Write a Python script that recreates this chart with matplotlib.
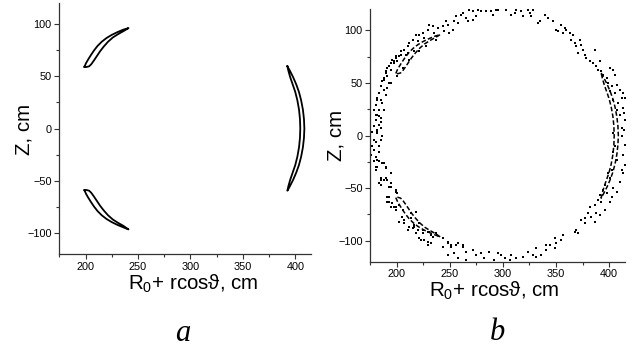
import matplotlib
matplotlib.use('Agg')
import matplotlib.pyplot as plt
from matplotlib.ticker import MultipleLocator

plt.rcParams['font.family'] = ['Liberation Sans', 'DejaVu Sans']
plt.rcParams['mathtext.fontset'] = 'custom'
plt.rcParams['mathtext.rm'] = 'Liberation Sans'
plt.rcParams['mathtext.it'] = 'Liberation Sans:italic'
plt.rcParams['mathtext.fallback'] = 'stixsans'

# ---------------- data ----------------
x_ticks = [200, 250, 300, 350, 400]
y_ticks = [-100, -50, 0, 50, 100]

# panel a: closed banana orbits (R, Z in cm)
upper_R = [199, 200.5, 202.5, 205, 208, 211.5, 215.5, 220, 225, 230.5, 236, 241,
           236, 231, 226, 221.5, 217.5, 214, 211, 208, 205.5, 203.5, 201, 199]
upper_Z = [59, 62.5, 66, 70, 74.5, 79, 83, 86.5, 89.5, 92.2, 94.5, 96,
           93, 90.2, 87, 83, 78.5, 74, 69.5, 65, 61.5, 59.5, 58.8, 59]

lower_R = [199, 200.5, 202.5, 205, 208, 211.5, 215.5, 220, 225, 230.5, 236, 241,
           236, 231, 226, 221.5, 217.5, 214, 211, 208, 205.5, 203.5, 201, 199]
lower_Z = [-59, -62.5, -66, -70, -74.5, -79, -83, -86.5, -89.5, -92.2, -94.5, -96.5,
           -93, -90.2, -87, -83, -78.5, -74, -69.5, -65, -61.5, -59.5, -58.8, -59]

right_R = [392.5, 395, 398, 401, 403.5, 405.6, 407.3, 408.3, 408.7, 408.3, 407.3, 405.6,
           403.5, 401, 398, 395, 392.5,
           393.5, 395.2, 397.6, 400, 402, 403.6, 404.5, 404.8, 404.5, 403.6, 402, 400,
           397.6, 395.2, 393.5, 392.5]
right_Z = [59.5, 55, 49, 42, 35, 27, 18, 9, 0, -9, -18, -27,
           -35, -42, -49, -55, -59.5,
           -55, -49, -42, -35, -27, -18, -9, 0, 9, 18, 27, 35,
           42, 49, 55, 59.5]

# panel b: scattered orbit points (R, Z in cm), read region by region
q1_R = [268.4, 271.5, 276.2, 279.4, 284.1, 288.8, 293.6, 290.4, 274.7, 271.5, 265.2, 260.5,
        255.8, 257.3, 254.2, 262.1, 266.8, 247.9, 246.3, 243.2, 244.7, 238.4, 233.7, 235.3,
        229.0, 230.6, 224.3, 225.8, 221.1, 218.0, 219.5, 214.8, 211.7, 210.1, 206.9, 208.5,
        203.8, 202.2, 200.6, 199.1, 195.9, 197.5, 192.8, 194.3, 189.6, 191.2, 188.0, 186.5,
        184.9, 188.0, 183.3, 189.6, 181.7, 184.9, 180.2, 178.6, 183.3, 188.0, 181.7, 184.9,
        180.2, 183.3, 178.6, 181.7, 184.9, 177.0, 211.7, 205.4, 200.6, 194.3, 191.2, 227.4,
        236.9, 249.5, 252.6]
q1_Z = [119.7, 118.1, 119.7, 118.1, 118.7, 118.1, 119.0, 114.9, 113.3, 110.2, 111.7, 114.9,
        113.3, 107.0, 108.6, 116.5, 108.6, 105.4, 108.6, 103.8, 99.0, 102.2, 103.8, 97.5,
        100.6, 105.4, 97.5, 92.7, 95.9, 95.9, 89.5, 91.1, 87.9, 84.8, 81.6, 76.8,
        80.0, 75.2, 70.5, 73.6, 72.1, 68.9, 65.7, 62.5, 61.0, 56.2, 54.6, 51.4,
        46.7, 43.5, 40.3, 38.7, 35.5, 34.0, 29.2, 24.4, 24.4, 24.4, 19.7, 16.5,
        14.9, 10.2, 8.6, 5.4, 7.0, 3.8, 72.1, 64.1, 56.2, 49.8, 45.1, 84.8,
        91.1, 97.5, 100.6]

q2_R = [295.2, 303.1, 307.8, 310.9, 312.5, 317.2, 318.8, 323.5, 325.1, 326.7, 328.3, 333.0,
        334.6, 339.3, 342.4, 347.2, 350.3, 351.9, 355.0, 356.6, 358.2, 359.8, 362.9, 366.1,
        364.5, 367.6, 369.2, 372.4, 373.9, 375.5, 377.1, 370.8, 378.7, 381.8, 386.5, 385.0,
        388.1, 391.3, 389.7, 392.8, 394.4, 400.7, 403.9, 405.4, 397.6, 399.1, 402.3, 407.0,
        400.7, 405.4, 410.2, 413.3, 411.7, 403.9, 408.6, 414.9, 407.0, 413.3, 414.5, 410.2,
        414.9, 411.7, 414.5]
q2_Z = [119.7, 119.7, 114.9, 116.5, 119.7, 118.1, 113.3, 119.7, 116.5, 113.3, 119.7, 107.0,
        108.6, 114.9, 111.7, 108.6, 100.6, 99.0, 105.4, 97.5, 102.2, 100.6, 97.5, 95.9,
        91.1, 87.9, 84.8, 91.1, 86.3, 81.6, 76.8, 78.4, 73.6, 70.5, 81.6, 68.9,
        65.7, 70.5, 62.5, 61.0, 57.8, 64.1, 62.5, 57.8, 54.6, 49.8, 46.7, 48.2,
        41.9, 40.3, 43.5, 40.3, 35.5, 34.0, 30.8, 35.5, 24.4, 26.0, 21.3, 19.7,
        14.9, 7.0, 5.4]

q3_R = [177.0, 181.7, 178.6, 184.9, 177.0, 183.3, 176.0, 180.2, 178.6, 183.3, 181.7, 188.0,
        189.6, 180.2, 184.9, 188.0, 191.2, 183.3, 184.9, 194.3, 194.3, 199.1, 200.6, 192.8,
        191.2, 195.9, 199.1, 194.3, 202.2, 205.4, 202.2, 206.9, 211.7, 214.8, 210.1, 218.0,
        221.1, 225.8, 229.0, 232.1, 233.7, 236.9, 243.2, 247.9, 251.0, 255.8, 262.1, 247.9,
        254.2, 257.3, 265.2, 271.5, 265.2, 274.7, 279.4, 282.5, 287.3, 292.0, 295.1, 221.1,
        216.4, 213.2, 218.0, 224.3, 230.6]
q3_Z = [3.8, 3.8, -4.1, -4.1, -10.4, -10.4, -18.4, -20.0, -24.7, -24.7, -29.5, -26.3,
        -31.1, -32.7, -42.2, -42.2, -42.2, -45.4, -47.0, -35.8, -48.5, -53.3, -54.9, -58.1,
        -62.8, -64.4, -67.6, -67.6, -66.0, -70.8, -81.9, -80.3, -86.6, -88.2, -89.8, -93.0,
        -97.7, -99.3, -104.1, -102.5, -96.2, -93.0, -105.7, -102.5, -105.7, -104.1, -104.1, -113.6,
        -112.0, -116.8, -110.5, -108.9, -118.4, -113.6, -112.0, -116.8, -110.5, -118.4, -112.0, -83.5,
        -85.0, -73.9, -72.4, -89.8, -91.4]

q4_R = [403.9, 411.7, 414.9, 405.4, 403.9, 413.3, 407.0, 414.9, 411.7, 413.3, 402.3, 399.1,
        400.7, 410.2, 396.0, 403.9, 394.4, 397.6, 391.3, 402.3, 407.0, 389.7, 392.8, 400.7,
        386.5, 381.8, 396.0, 388.1, 380.2, 377.1, 383.4, 373.9, 377.1, 386.5, 391.3, 369.2,
        370.8, 367.6, 356.6, 355.0, 350.3, 348.7, 344.0, 340.9, 348.7, 340.9, 331.4, 336.1,
        328.3, 331.4, 323.5, 318.8, 312.5, 307.8, 306.2, 298.3, 295.2, 301.5]
q4_Z = [2.3, -0.9, -8.9, -10.4, -15.2, -18.4, -23.1, -27.9, -32.7, -35.8, -32.7, -35.8,
        -40.6, -43.8, -46.9, -50.1, -51.7, -54.9, -56.5, -58.1, -53.3, -61.2, -62.8, -62.8,
        -66.0, -67.6, -70.8, -73.9, -73.9, -78.7, -77.1, -80.3, -83.5, -81.9, -75.5, -89.8,
        -93.0, -91.4, -94.6, -99.3, -102.5, -97.7, -104.1, -104.1, -107.3, -108.9, -107.3, -113.6,
        -113.6, -115.2, -110.5, -115.2, -116.8, -113.6, -118.4, -113.6, -112.0, -116.8]

left_R = [199.0, 203.8, 210.1, 216.4, 221.1, 194.3, 197.5, 191.2, 189.6, 188.0, 192.7, 184.9,
          183.3, 189.6, 181.7, 186.4, 188.0, 180.1, 183.3, 184.9, 178.6, 181.7, 186.4, 180.1,
          184.9, 178.6, 183.3, 181.7, 186.4, 189.6, 180.1, 184.9, 189.6, 194.3, 192.7, 199.0,
          191.2, 192.7, 197.5, 199.0, 205.3, 206.9, 213.2, 216.4, 219.5, 224.2, 229.0, 232.1,
          222.7, 229.0, 243.1, 247.9, 251.0, 257.3, 262.1]
left_Z = [75.3, 76.8, 78.4, 80.0, 80.0, 68.9, 70.5, 64.1, 59.4, 53.0, 49.9, 46.7,
          40.3, 38.7, 34.0, 30.8, 24.5, 19.7, 18.1, 13.3, 8.6, 2.2, -0.9, -5.7,
          -4.1, -13.6, -15.2, -23.2, -26.3, -29.5, -29.5, -40.6, -40.6, -45.4, -48.6, -51.7,
          -58.1, -62.8, -67.6, -70.8, -77.1, -83.5, -78.7, -86.7, -89.8, -93.0, -91.4, -94.6,
          -99.4, -100.9, -97.8, -100.9, -104.1, -102.5, -105.7]

ring_R = q1_R + q2_R + q3_R + q4_R + left_R
ring_Z = q1_Z + q2_Z + q3_Z + q4_Z + left_Z

# ---------------- figure ----------------
fig = plt.figure(figsize=(6.37, 3.49), dpi=100)
axA = fig.add_axes([0.0931, 0.2722, 0.3951, 0.7192])
axB = fig.add_axes([0.5813, 0.2501, 0.3999, 0.7232])

for ax in (axA, axB):
    ax.set_xlim(175, 415)
    ax.set_ylim(-120, 120)
    ax.set_xticks(x_ticks)
    ax.set_yticks(y_ticks)
    ax.xaxis.set_minor_locator(MultipleLocator(25))
    ax.yaxis.set_minor_locator(MultipleLocator(25))
    for s in ('top', 'right'):
        ax.spines[s].set_visible(False)
    for s in ('left', 'bottom'):
        ax.spines[s].set_linewidth(0.9)
        ax.spines[s].set_color('#333333')
    ax.tick_params(which='major', direction='out', length=3.5, width=0.8,
                   labelsize=7.8, pad=2, color='#333333')
    ax.tick_params(which='minor', direction='out', length=2, width=0.8, color='#333333')

# panel a
for R, Z in ((upper_R, upper_Z), (lower_R, lower_Z), (right_R, right_Z)):
    axA.plot(R, Z, color='black', lw=1.3, solid_joinstyle='round')

# panel b
axB.scatter(ring_R, ring_Z, s=1.8, marker='s', color='black', linewidths=0)
for R, Z in ((upper_R, upper_Z), (lower_R, lower_Z), (right_R, right_Z)):
    axB.plot(R, Z, color='black', lw=1.1, linestyle=(0, (3, 1.5)))

xlab = r'R$_\mathregular{0}$+ rcosϑ, cm'
fig.text(193 / 637, 1 - 290 / 349, xlab, ha='center', va='baseline', fontsize=14.8)
fig.text(494 / 637, 1 - 297 / 349, xlab, ha='center', va='baseline', fontsize=14.8)
fig.text(24 / 637, 1 - 129 / 349, 'Z, cm', ha='center', va='center', rotation=90, fontsize=14.8)
fig.text(336 / 637, 1 - 135 / 349, 'Z, cm', ha='center', va='center', rotation=90, fontsize=14.8)
fig.text(183 / 637, 1 - 341 / 349, 'a', ha='center', va='baseline', fontsize=22,
         family='Liberation Serif', style='italic')
fig.text(497 / 637, 1 - 340 / 349, 'b', ha='center', va='baseline', fontsize=22,
         family='Liberation Serif', style='italic')

fig.savefig('out.png', dpi=100)
